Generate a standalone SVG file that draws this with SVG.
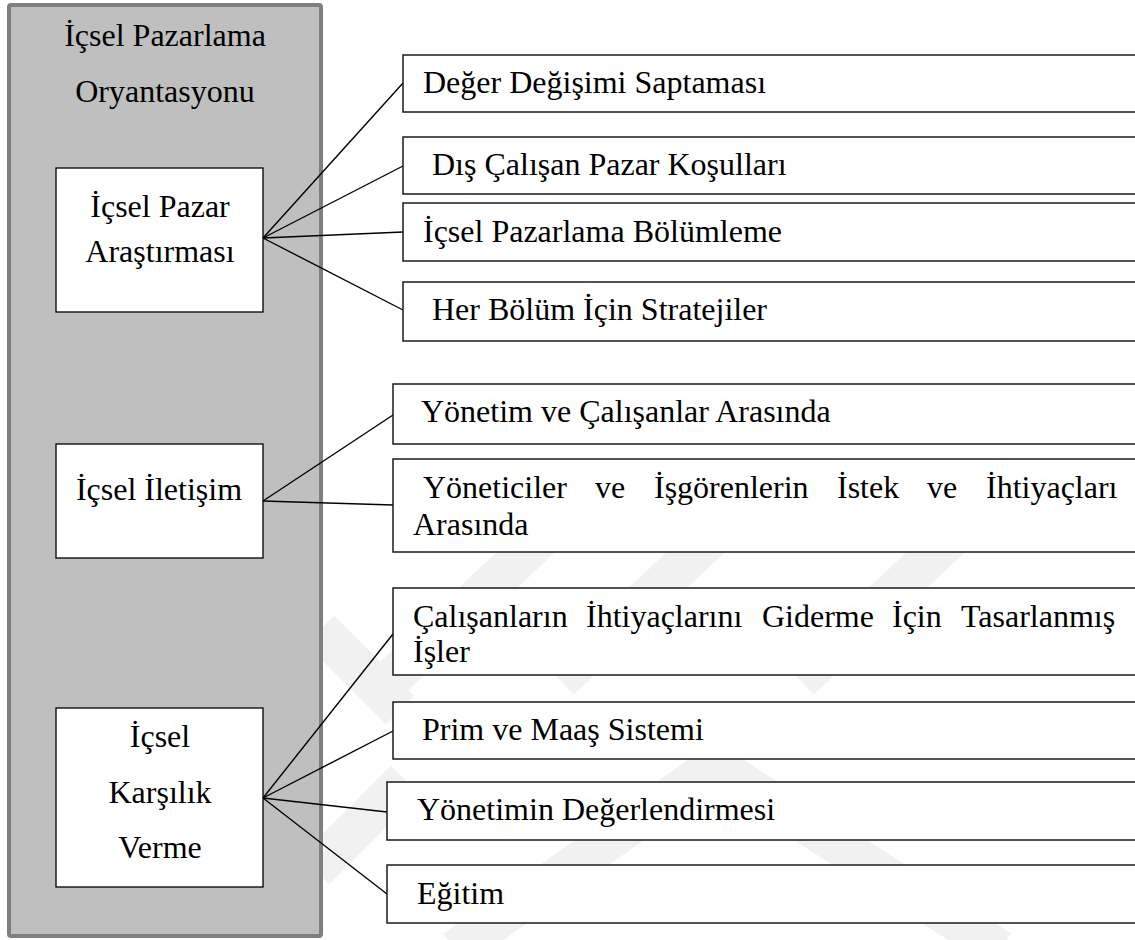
<svg xmlns="http://www.w3.org/2000/svg" width="1135" height="940" viewBox="0 0 1135 940">
  <style>
    .mid { text-anchor: middle; }
    .panel { fill: #bfbfbf; stroke: #7f7f7f; stroke-width: 4; }
    .inner { fill: #fff; stroke: #000; stroke-width: 1.3; }
    .item { fill: #fff; stroke: #1a1a1a; stroke-width: 1.5; }
    .link { stroke: #000; stroke-width: 1.4; fill: none; }
    .mark { stroke: #f1f1f1; stroke-width: 40; fill: none; stroke-linejoin: miter; }
  </style>

  <rect width="1135" height="940" fill="#fff"/>

  <!-- faint background emblem -->
  <g id="emblem">
    <polyline class="mark" points="455,950 715,765 1000,950"/>
    <line class="mark" x1="390" y1="680" x2="560" y2="520"/>
    <line class="mark" x1="560" y1="680" x2="730" y2="520"/>
    <line class="mark" x1="800" y1="680" x2="970" y2="520"/>
    <line class="mark" x1="320" y1="630" x2="400" y2="710"/>
    <line class="mark" x1="315" y1="870" x2="405" y2="780"/>
  </g>

  <g font-family="Liberation Serif, Tinos, Times New Roman, serif" font-size="32" fill="#000">
    <!-- outer panel -->
    <g id="panel">
      <rect class="panel" x="9" y="5" width="312" height="931" rx="2"/>
      <text class="mid" x="165" y="46">İçsel Pazarlama</text>
      <text class="mid" x="165" y="102">Oryantasyonu</text>
    </g>

    <!-- connectors -->
    <g id="connectors">
      <line class="link" x1="263" y1="238" x2="403" y2="83"/>
      <line class="link" x1="263" y1="238" x2="403" y2="166"/>
      <line class="link" x1="263" y1="238" x2="403" y2="232"/>
      <line class="link" x1="263" y1="238" x2="403" y2="310"/>

      <line class="link" x1="263" y1="501" x2="393" y2="415"/>
      <line class="link" x1="263" y1="501" x2="393" y2="505"/>

      <line class="link" x1="263" y1="798" x2="393" y2="634"/>
      <line class="link" x1="263" y1="798" x2="393" y2="731"/>
      <line class="link" x1="263" y1="798" x2="387" y2="812"/>
      <line class="link" x1="263" y1="798" x2="387" y2="894"/>
    </g>

    <!-- left-hand categories -->
    <g id="pazar-arastirmasi">
      <rect class="inner" x="56" y="168" width="207" height="144"/>
      <text class="mid" x="160" y="217">İçsel Pazar</text>
      <text class="mid" x="160" y="262">Araştırması</text>
    </g>
    <g id="iletisim">
      <rect class="inner" x="56" y="444" width="207" height="114"/>
      <text class="mid" x="159" y="500">İçsel İletişim</text>
    </g>
    <g id="karsilik-verme">
      <rect class="inner" x="56" y="708" width="207" height="179"/>
      <text class="mid" x="160" y="747">İçsel</text>
      <text class="mid" x="160" y="803">Karşılık</text>
      <text class="mid" x="160" y="858">Verme</text>
    </g>

    <!-- right-hand items -->
    <g id="deger-degisimi">
      <rect class="item" x="403" y="55" width="740" height="57"/>
      <text x="423" y="93">Değer Değişimi Saptaması</text>
    </g>
    <g id="dis-calisan">
      <rect class="item" x="403" y="137" width="740" height="57"/>
      <text x="432" y="175">Dış Çalışan Pazar Koşulları</text>
    </g>
    <g id="bolumleme">
      <rect class="item" x="403" y="203" width="740" height="58"/>
      <text x="423" y="242">İçsel Pazarlama Bölümleme</text>
    </g>
    <g id="stratejiler">
      <rect class="item" x="403" y="282" width="740" height="59"/>
      <text x="432" y="320">Her Bölüm İçin Stratejiler</text>
    </g>

    <g id="yonetim-calisanlar">
      <rect class="item" x="393" y="384" width="750" height="60"/>
      <text x="421" y="422">Yönetim ve Çalışanlar Arasında</text>
    </g>
    <g id="istek-ihtiyac">
      <rect class="item" x="393" y="459" width="750" height="93"/>
      <text y="498"><tspan x="423">Yöneticiler</tspan><tspan x="595">ve</tspan><tspan x="654">İşgörenlerin</tspan><tspan x="837">İstek</tspan><tspan x="927">ve</tspan><tspan x="986">İhtiyaçları</tspan></text>
      <text x="413" y="535">Arasında</text>
    </g>

    <g id="tasarlanmis-isler">
      <rect class="item" x="393" y="588" width="750" height="87"/>
      <text y="627"><tspan x="413">Çalışanların</tspan><tspan x="586">İhtiyaçlarını</tspan><tspan x="762">Giderme</tspan><tspan x="892">İçin</tspan><tspan x="961">Tasarlanmış</tspan></text>
      <text x="413" y="662">İşler</text>
    </g>
    <g id="prim-maas">
      <rect class="item" x="393" y="702" width="750" height="57"/>
      <text x="422" y="740">Prim ve Maaş Sistemi</text>
    </g>
    <g id="degerlendirme">
      <rect class="item" x="387" y="782" width="756" height="58"/>
      <text x="417" y="820">Yönetimin Değerlendirmesi</text>
    </g>
    <g id="egitim">
      <rect class="item" x="387" y="865" width="756" height="58"/>
      <text x="417" y="904">Eğitim</text>
    </g>
  </g>
</svg>
